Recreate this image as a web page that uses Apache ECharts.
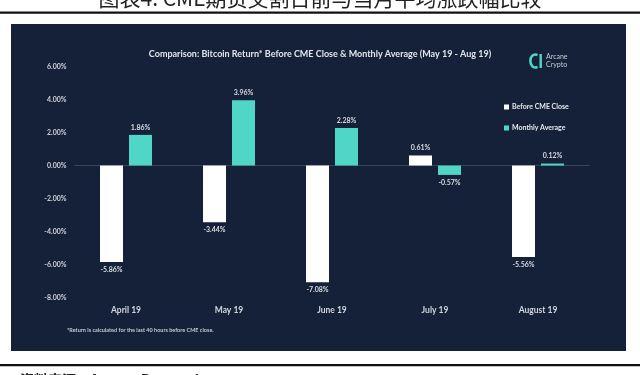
<!DOCTYPE html>
<html>
<head>
<meta charset="utf-8">
<script src="https://cdn.jsdelivr.net/npm/echarts@6/dist/echarts.min.js"></script>
<style>html,body{margin:0;padding:0;background:#fff;}#c{width:640px;height:375px;}</style>
</head>
<body>
<div id="c"></div>
<script>
const categories = ['April 19', 'May 19', 'June 19', 'July 19', 'August 19'];
const beforeCME = [-5.86, -3.44, -7.08, 0.61, -5.56];
const monthlyAvg = [1.86, 3.96, 2.28, -0.57, 0.12];
const seriesNames = ['Before CME Close', 'Monthly Average'];
const yTicks = { min: -8, max: 6, interval: 2 };

const FONT = 'Lato, "Open Sans", sans-serif';
const TEAL = '#50d6c7';
const BG = '#142139';

const chart = echarts.init(document.getElementById('c'), null, { renderer: 'canvas' });
chart.setOption({
  backgroundColor: '#ffffff',
  animation: false,
  title: {
    text: 'Comparison: Bitcoin Return* Before CME Close & Monthly Average (May 19 - Aug 19)',
    left: 'center', top: 45,
    textStyle: { color: '#e2e5ea', fontSize: 9, fontWeight: 'bold', fontFamily: FONT }
  },
  legend: {
    orient: 'vertical', left: 499, top: 97, itemGap: 11,
    itemWidth: 5, itemHeight: 5, icon: 'rect',
    textStyle: { color: '#e6e8ec', fontSize: 7, fontWeight: 'bold', fontFamily: FONT, lineHeight: 10, padding: [0, 0, 0, -2] },
    data: seriesNames
  },
  grid: { left: 74.5, right: 50.5, top: 66.7, bottom: 77.7 },
  xAxis: {
    type: 'category', data: categories,
    axisLine: { onZero: true, lineStyle: { color: 'rgba(255,255,255,0.16)', width: 1 } },
    axisTick: { show: false },
    axisLabel: { color: '#d2d6dc', fontSize: 8.5, fontWeight: 'bold', fontFamily: FONT, margin: 8 }
  },
  yAxis: {
    type: 'value', min: yTicks.min, max: yTicks.max, interval: yTicks.interval,
    axisLine: { show: false }, axisTick: { show: false }, splitLine: { show: false },
    axisLabel: { color: '#cdd1d8', fontSize: 7, fontWeight: 'bold', fontFamily: FONT, margin: 8,
      formatter: v => v.toFixed(2) + '%' }
  },
  series: [
    { name: seriesNames[0], type: 'bar', data: beforeCME, barWidth: 23, barGap: '26%',
      itemStyle: { color: '#ffffff' },
      label: { show: true, position: 'outside', distance: 4, color: '#d8dbe0', fontSize: 7, fontWeight: 'bold', fontFamily: FONT,
        formatter: p => p.value.toFixed(2) + '%' } },
    { name: seriesNames[1], type: 'bar', data: monthlyAvg, barWidth: 23,
      itemStyle: { color: TEAL },
      label: { show: true, position: 'outside', distance: 4, color: '#d8dbe0', fontSize: 7, fontWeight: 'bold', fontFamily: FONT,
        formatter: p => p.value.toFixed(2) + '%' } }
  ],
  graphic: [
    { type: 'rect', z: -10, shape: { x: 11, y: 24, width: 615, height: 327 }, style: { fill: BG } },
    { type: 'rect', z: -10, shape: { x: 0, y: 11.5, width: 640, height: 2.2 }, style: { fill: '#111' } },
    { type: 'rect', z: -10, shape: { x: 0, y: 364, width: 640, height: 2.2 }, style: { fill: '#111' } },
    { type: 'text', z: -10, style: { x: 320, y: 9, text: '图表4: CME期货交割日前与当月平均涨跌幅比较', textAlign: 'center', textVerticalAlign: 'bottom',
      fill: '#222', fontSize: 21, fontFamily: '"Noto Sans CJK SC", sans-serif' } },
    { type: 'text', z: -10, style: { x: 20, y: 372.5, text: '资料来源：Arcane Research', textAlign: 'left', textVerticalAlign: 'top',
      fill: '#222', fontSize: 14, fontWeight: 'bold', fontFamily: '"Noto Sans CJK SC", sans-serif' } },
    { type: 'text', style: { x: 67, y: 330.7, text: '*Return is calculated for the last 40 hours before CME close.', textAlign: 'left', textVerticalAlign: 'middle',
      fill: '#c4c8cf', fontSize: 5.5, fontWeight: 'bold', fontFamily: FONT } },
    { type: 'bezierCurve', shape: { x1: 537.5, y1: 55, x2: 537.5, y2: 67, cpx1: 528, cpy1: 51.5, cpx2: 528, cpy2: 70.5 },
      style: { fill: null, stroke: TEAL, lineWidth: 2.6 } },
    { type: 'rect', shape: { x: 539.5, y: 54, width: 2.4, height: 14 }, style: { fill: TEAL } },
    { type: 'text', style: { x: 546, y: 56.5, text: 'Arcane', textAlign: 'left', textVerticalAlign: 'middle',
      fill: '#c6cad2', fontSize: 7, fontFamily: FONT } },
    { type: 'text', style: { x: 546, y: 64.5, text: 'Crypto', textAlign: 'left', textVerticalAlign: 'middle',
      fill: '#c6cad2', fontSize: 7, fontFamily: FONT } }
  ]
});
</script>
</body>
</html>
